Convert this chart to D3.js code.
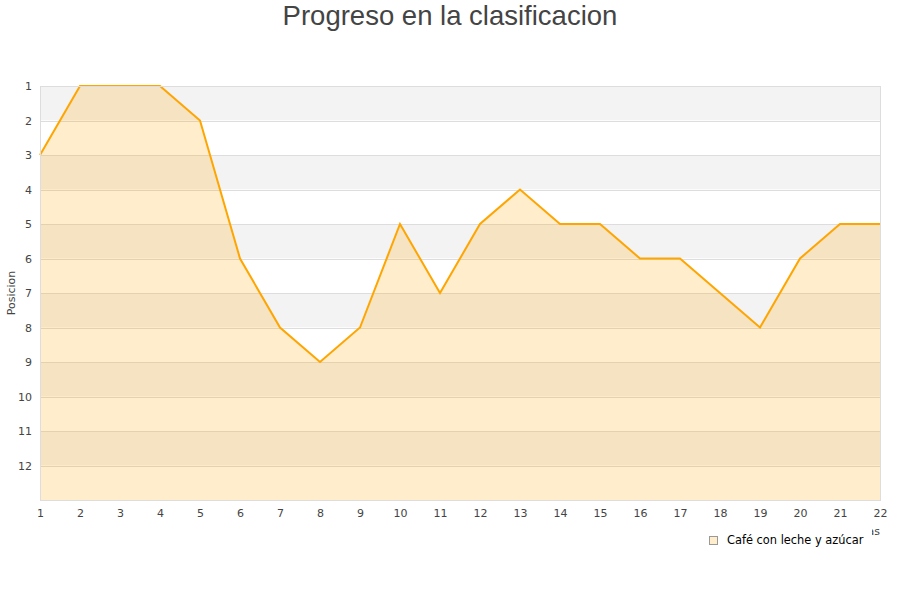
<!DOCTYPE html>
<html>
<head>
<meta charset="utf-8">
<script src="https://cdn.jsdelivr.net/npm/d3@7"></script>
<style>
  body { margin: 0; background: #fff; }
  svg text { font-family: "DejaVu Sans", sans-serif; }
</style>
</head>
<body>
<div id="chart"></div>
<script>
// Posicion por jornada
const jornadas = [1, 2, 3, 4, 5, 6, 7, 8, 9, 10, 11, 12, 13, 14, 15, 16, 17, 18, 19, 20, 21, 22]
const posiciones = [3, 1, 1, 1, 2, 6, 8, 9, 8, 5, 7, 5, 4, 5, 5, 6, 6, 7, 8, 6, 5, 5]
const yTicks = [1, 2, 3, 4, 5, 6, 7, 8, 9, 10, 11, 12]
const serieName = "Café con leche y azúcar"

const width = 900
const height = 600
const margin = { top: 86, right: 20, bottom: 100, left: 40 }
const innerW = width - margin.left - margin.right
const innerH = height - margin.top - margin.bottom

const svg = d3.select("#chart")
  .append("svg")
  .attr("width", width)
  .attr("height", height)

// Title
svg.append("text")
  .attr("x", width / 2)
  .attr("y", 25)
  .attr("text-anchor", "middle")
  .style("font-family", "'Liberation Sans', Arial, sans-serif")
  .style("font-size", "27.5px")
  .style("fill", "#444")
  .text("Progreso en la clasificacion")

const g = svg.append("g")
  .attr("transform", `translate(${margin.left},${margin.top})`)

const x = d3.scaleLinear().domain([1, 22]).range([0, innerW])
const y = d3.scaleLinear().domain([1, 13]).range([0, innerH])

// Alternating bands
g.selectAll(".band")
  .data(d3.range(1, 13))
  .enter()
  .append("rect")
  .attr("x", 0)
  .attr("y", d => y(d))
  .attr("width", innerW)
  .attr("height", d => y(d + 1) - y(d))
  .attr("fill", d => d % 2 === 1 ? "#f3f3f3" : "#ffffff")

// Grid lines
g.selectAll(".grid")
  .data(yTicks)
  .enter()
  .append("line")
  .attr("x1", 0)
  .attr("x2", innerW)
  .attr("y1", d => Math.round(y(d)) + 0.5)
  .attr("y2", d => Math.round(y(d)) + 0.5)
  .attr("stroke", "#dddddd")

const points = jornadas.map((j, i) => ({ j, p: posiciones[i] }))

// Area
const area = d3.area()
  .x(d => x(d.j))
  .y0(y(13))
  .y1(d => y(d.p))

g.append("path")
  .datum(points)
  .attr("d", area)
  .attr("fill", "#ffa500")
  .attr("fill-opacity", 0.2)

// Line
const line = d3.line()
  .x(d => x(d.j))
  .y(d => y(d.p))

g.append("path")
  .datum(points)
  .attr("d", line)
  .attr("fill", "none")
  .attr("stroke", "#ffa500")
  .attr("stroke-width", 2)

// Border
g.append("rect")
  .attr("x", 0.5)
  .attr("y", 0.5)
  .attr("width", innerW)
  .attr("height", innerH)
  .attr("fill", "none")
  .attr("stroke", "#dddddd")

// Axes
const yAxis = d3.axisLeft(y).tickValues(yTicks).tickSize(0).tickPadding(8)
const xAxis = d3.axisBottom(x).tickValues(jornadas).tickSize(0).tickPadding(9)

const yG = g.append("g").call(yAxis)
const xG = g.append("g").attr("transform", `translate(0,${innerH})`).call(xAxis)

;[yG, xG].forEach(ax => {
  ax.select(".domain").remove()
  ax.selectAll("text")
    .style("font-family", "'DejaVu Sans', sans-serif")
    .style("font-size", "11px")
    .style("fill", "#444")
})

// Axis labels
svg.append("text")
  .attr("transform", `translate(15,${margin.top + innerH / 2}) rotate(-90)`)
  .attr("text-anchor", "middle")
  .style("font-size", "11px")
  .style("fill", "#444")
  .text("Posicion")

svg.append("text")
  .attr("x", margin.left + innerW)
  .attr("y", 535)
  .attr("text-anchor", "end")
  .style("font-size", "11px")
  .style("fill", "#444")
  .text("Jornadas")

// Legend (its background hides most of the x label)
const legend = svg.append("g")
  .attr("transform", "translate(700,526)")

legend.append("rect")
  .attr("x", 0)
  .attr("y", 0)
  .attr("width", 172)
  .attr("height", 27)
  .attr("fill", "#ffffff")

legend.append("rect")
  .attr("x", 9.5)
  .attr("y", 10.5)
  .attr("width", 8)
  .attr("height", 8)
  .attr("fill", "#ffedcc")
  .attr("stroke", "#999")

legend.append("text")
  .attr("x", 27)
  .attr("y", 18)
  .style("font-size", "11.4px")
  .style("fill", "#000")
  .text(serieName)
</script>
</body>
</html>
